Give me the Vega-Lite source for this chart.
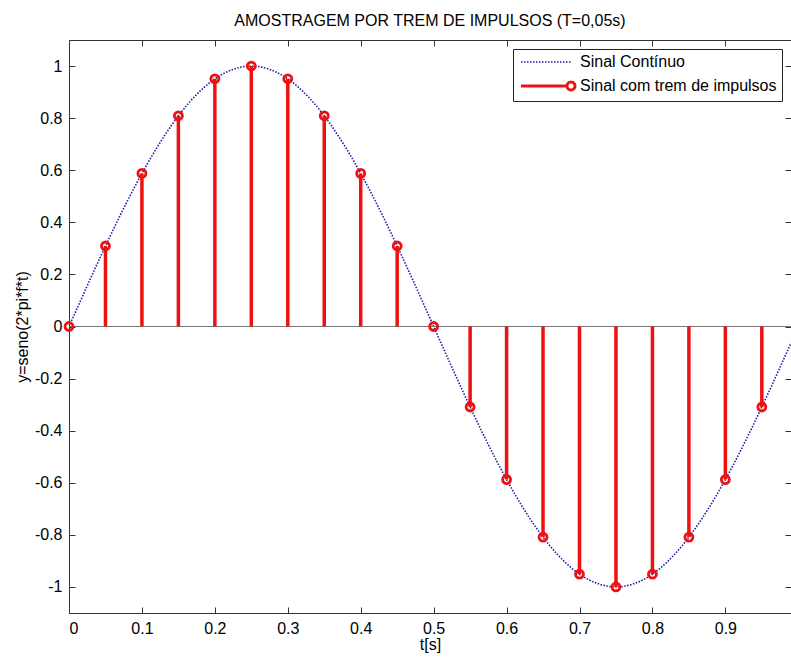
{
  "$schema": "https://vega.github.io/schema/vega-lite/v6.json",
  "width": 722,
  "height": 573,
  "autosize": {"type": "none"},
  "padding": {"left": 69, "top": 40, "right": 0, "bottom": 46},
  "background": "white",
  "title": {
    "text": "AMOSTRAGEM POR TREM DE IMPULSOS (T=0,05s)",
    "font": "Liberation Sans",
    "fontSize": 16,
    "fontWeight": "normal",
    "color": "black",
    "anchor": "middle",
    "offset": 11
  },
  "config": {
    "view": {"stroke": null},
    "font": "Liberation Sans",
    "axis": {
      "grid": false,
      "domainColor": "#333333",
      "tickColor": "#333333",
      "labelColor": "black",
      "labelFont": "Liberation Sans",
      "labelFontSize": 16,
      "titleFont": "Liberation Sans",
      "titleFontSize": 16,
      "titleFontWeight": "normal",
      "titleColor": "black",
      "tickSize": -6
    }
  },
  "datasets": {
    "cont": [
      {"t": 0.00, "y": 0}, {"t": 0.01, "y": 0.0628}, {"t": 0.02, "y": 0.1253}, {"t": 0.03, "y": 0.1874}, {"t": 0.04, "y": 0.2487},
      {"t": 0.05, "y": 0.3090}, {"t": 0.06, "y": 0.3681}, {"t": 0.07, "y": 0.4258}, {"t": 0.08, "y": 0.4818}, {"t": 0.09, "y": 0.5358},
      {"t": 0.10, "y": 0.5878}, {"t": 0.11, "y": 0.6374}, {"t": 0.12, "y": 0.6845}, {"t": 0.13, "y": 0.7290}, {"t": 0.14, "y": 0.7705},
      {"t": 0.15, "y": 0.8090}, {"t": 0.16, "y": 0.8443}, {"t": 0.17, "y": 0.8763}, {"t": 0.18, "y": 0.9048}, {"t": 0.19, "y": 0.9298},
      {"t": 0.20, "y": 0.9511}, {"t": 0.21, "y": 0.9686}, {"t": 0.22, "y": 0.9823}, {"t": 0.23, "y": 0.9921}, {"t": 0.24, "y": 0.9980},
      {"t": 0.25, "y": 1}, {"t": 0.26, "y": 0.9980}, {"t": 0.27, "y": 0.9921}, {"t": 0.28, "y": 0.9823}, {"t": 0.29, "y": 0.9686},
      {"t": 0.30, "y": 0.9511}, {"t": 0.31, "y": 0.9298}, {"t": 0.32, "y": 0.9048}, {"t": 0.33, "y": 0.8763}, {"t": 0.34, "y": 0.8443},
      {"t": 0.35, "y": 0.8090}, {"t": 0.36, "y": 0.7705}, {"t": 0.37, "y": 0.7290}, {"t": 0.38, "y": 0.6845}, {"t": 0.39, "y": 0.6374},
      {"t": 0.40, "y": 0.5878}, {"t": 0.41, "y": 0.5358}, {"t": 0.42, "y": 0.4818}, {"t": 0.43, "y": 0.4258}, {"t": 0.44, "y": 0.3681},
      {"t": 0.45, "y": 0.3090}, {"t": 0.46, "y": 0.2487}, {"t": 0.47, "y": 0.1874}, {"t": 0.48, "y": 0.1253}, {"t": 0.49, "y": 0.0628},
      {"t": 0.50, "y": 0}, {"t": 0.51, "y": -0.0628}, {"t": 0.52, "y": -0.1253}, {"t": 0.53, "y": -0.1874}, {"t": 0.54, "y": -0.2487},
      {"t": 0.55, "y": -0.3090}, {"t": 0.56, "y": -0.3681}, {"t": 0.57, "y": -0.4258}, {"t": 0.58, "y": -0.4818}, {"t": 0.59, "y": -0.5358},
      {"t": 0.60, "y": -0.5878}, {"t": 0.61, "y": -0.6374}, {"t": 0.62, "y": -0.6845}, {"t": 0.63, "y": -0.7290}, {"t": 0.64, "y": -0.7705},
      {"t": 0.65, "y": -0.8090}, {"t": 0.66, "y": -0.8443}, {"t": 0.67, "y": -0.8763}, {"t": 0.68, "y": -0.9048}, {"t": 0.69, "y": -0.9298},
      {"t": 0.70, "y": -0.9511}, {"t": 0.71, "y": -0.9686}, {"t": 0.72, "y": -0.9823}, {"t": 0.73, "y": -0.9921}, {"t": 0.74, "y": -0.9980},
      {"t": 0.75, "y": -1}, {"t": 0.76, "y": -0.9980}, {"t": 0.77, "y": -0.9921}, {"t": 0.78, "y": -0.9823}, {"t": 0.79, "y": -0.9686},
      {"t": 0.80, "y": -0.9511}, {"t": 0.81, "y": -0.9298}, {"t": 0.82, "y": -0.9048}, {"t": 0.83, "y": -0.8763}, {"t": 0.84, "y": -0.8443},
      {"t": 0.85, "y": -0.8090}, {"t": 0.86, "y": -0.7705}, {"t": 0.87, "y": -0.7290}, {"t": 0.88, "y": -0.6845}, {"t": 0.89, "y": -0.6374},
      {"t": 0.90, "y": -0.5878}, {"t": 0.91, "y": -0.5358}, {"t": 0.92, "y": -0.4818}, {"t": 0.93, "y": -0.4258}, {"t": 0.94, "y": -0.3681},
      {"t": 0.95, "y": -0.3090}, {"t": 0.96, "y": -0.2487}, {"t": 0.97, "y": -0.1874}, {"t": 0.98, "y": -0.1253}, {"t": 0.99, "y": -0.0628}
    ],
    "samp": [
      {"t": 0.00, "y": 0}, {"t": 0.05, "y": 0.3090}, {"t": 0.10, "y": 0.5878}, {"t": 0.15, "y": 0.8090}, {"t": 0.20, "y": 0.9511},
      {"t": 0.25, "y": 1}, {"t": 0.30, "y": 0.9511}, {"t": 0.35, "y": 0.8090}, {"t": 0.40, "y": 0.5878}, {"t": 0.45, "y": 0.3090},
      {"t": 0.50, "y": 0}, {"t": 0.55, "y": -0.3090}, {"t": 0.60, "y": -0.5878}, {"t": 0.65, "y": -0.8090}, {"t": 0.70, "y": -0.9511},
      {"t": 0.75, "y": -1}, {"t": 0.80, "y": -0.9511}, {"t": 0.85, "y": -0.8090}, {"t": 0.90, "y": -0.5878}, {"t": 0.95, "y": -0.3090}
    ]
  },
  "resolve": {"axis": {"x": "independent", "y": "independent"}},
  "layer": [
    {
      "data": {"name": "cont"},
      "mark": {"type": "line", "strokeDash": [1.5, 1.5], "strokeWidth": 1.6, "clip": true},
      "encoding": {
        "x": {
          "field": "t", "type": "quantitative",
          "scale": {"domain": [0, 0.99], "nice": false, "zero": false},
          "axis": {"orient": "bottom", "values": [0, 0.1, 0.2, 0.3, 0.4, 0.5, 0.6, 0.7, 0.8, 0.9], "format": "~g", "title": "t[s]", "labelPadding": 13, "titlePadding": 0}
        },
        "y": {
          "field": "y", "type": "quantitative",
          "scale": {"domain": [-1.1, 1.1], "nice": false, "zero": false},
          "axis": {"orient": "left", "values": [-1, -0.8, -0.6, -0.4, -0.2, 0, 0.2, 0.4, 0.6, 0.8, 1],
                   "labelExpr": "datum.value < 0 ? '-' + format(-datum.value, '.1~f') : format(datum.value, '.1~f')",
                   "title": "y=seno(2*pi*f*t)", "labelPadding": 13, "titlePadding": 4}
        },
        "color": {
          "datum": "Sinal Contínuo", "type": "nominal",
          "scale": {"domain": ["Sinal Contínuo", "Sinal com trem de impulsos"], "range": ["#1c1caa", "#ee1111"]},
          "legend": {
            "title": null,
            "orient": "top-right",
            "offset": 9,
            "fillColor": "white",
            "strokeColor": "#222222",
            "padding": 5,
            "labelFont": "Liberation Sans",
            "labelFontSize": 16,
            "labelColor": "black",
            "labelLimit": 400,
            "symbolSize": 100,
            "symbolStrokeWidth": 2.5,
            "labelOffset": 46,
            "rowPadding": 6,
            "symbolType": "M-1,0L9,0",
            "encode": {
              "symbols": {
                "update": {
                  "shape": {"signal": "datum.value === 'Sinal Contínuo' ? 'M-1,0L9,0' : 'M-1,0L8.2,0M9.8,0A0.8,0.8 0 1 1 8.2,0A0.8,0.8 0 1 1 9.8,0'"},
                  "strokeDash": {"signal": "datum.value === 'Sinal Contínuo' ? [1.5, 1.5] : [1, 0]"},
                  "strokeWidth": {"signal": "datum.value === 'Sinal Contínuo' ? 1.6 : 2.8"},
                  "fill": {"value": "transparent"}
                }
              }
            }
          }
        }
      }
    },
    {
      "data": {"name": "samp"},
      "mark": {"type": "rule", "color": "#777777", "strokeWidth": 1.2},
      "encoding": {"y": {"datum": 0, "type": "quantitative", "axis": null}}
    },
    {
      "data": {"name": "samp"},
      "mark": {"type": "rule", "strokeWidth": 3.5},
      "encoding": {
        "x": {"field": "t", "type": "quantitative", "axis": {"orient": "top", "labels": false, "title": null, "values": [0, 0.1, 0.2, 0.3, 0.4, 0.5, 0.6, 0.7, 0.8, 0.9]}},
        "y": {"field": "y", "type": "quantitative", "axis": {"orient": "right", "labels": false, "title": null, "values": [-1, -0.8, -0.6, -0.4, -0.2, 0, 0.2, 0.4, 0.6, 0.8, 1]}},
        "y2": {"datum": 0},
        "color": {"datum": "Sinal com trem de impulsos", "type": "nominal"}
      }
    },
    {
      "data": {"name": "samp"},
      "mark": {"type": "point", "filled": false, "strokeWidth": 2.8, "size": 64, "opacity": 1},
      "encoding": {
        "x": {"field": "t", "type": "quantitative", "axis": null},
        "y": {"field": "y", "type": "quantitative", "axis": null},
        "color": {"datum": "Sinal com trem de impulsos", "type": "nominal"}
      }
    }
  ]
}
